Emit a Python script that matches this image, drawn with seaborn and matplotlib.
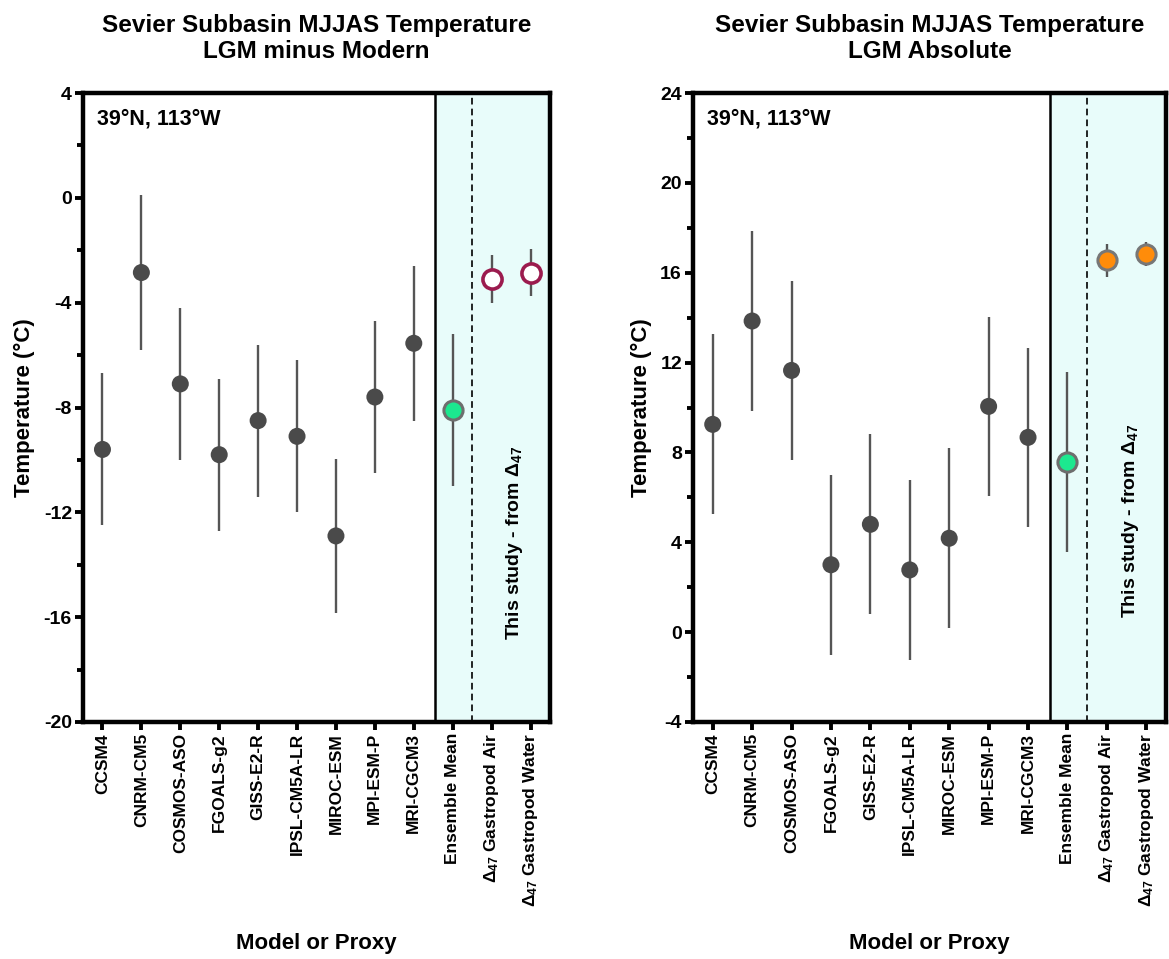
import numpy as np
import pandas as pd
import matplotlib
matplotlib.use("Agg")
import matplotlib.pyplot as plt
import seaborn as sns

categories = ["CCSM4", "CNRM-CM5", "COSMOS-ASO", "FGOALS-g2", "GISS-E2-R",
              "IPSL-CM5A-LR", "MIROC-ESM", "MPI-ESM-P", "MRI-CGCM3",
              "Ensemble Mean", "Gastropod Air", "Gastropod Water"]
tick_labels = ["CCSM4", "CNRM-CM5", "COSMOS-ASO", "FGOALS-g2", "GISS-E2-R",
               "IPSL-CM5A-LR", "MIROC-ESM", "MPI-ESM-P", "MRI-CGCM3",
               "Ensemble Mean",
               r"$\mathbf{\Delta_{47}}$ Gastropod Air",
               r"$\mathbf{\Delta_{47}}$ Gastropod Water"]
groups = ["model"] * 9 + ["ensemble", "proxy", "proxy"]

diff_values = [-9.6, -2.85, -7.1, -9.8, -8.5, -9.1, -12.9, -7.6, -5.55, -8.1, -3.1, -2.85]
diff_errors = [2.9, 2.95, 2.9, 2.9, 2.9, 2.9, 2.95, 2.9, 2.95, 2.9, 0.9, 0.9]
abs_values = [9.25, 13.85, 11.65, 3.0, 4.8, 2.77, 4.18, 10.05, 8.67, 7.57, 16.55, 16.83]
abs_errors = [4.0, 4.0, 4.0, 4.0, 4.0, 4.0, 4.0, 4.0, 4.0, 4.0, 0.72, 0.53]

sns.set_theme(style="ticks")
plt.rcParams["font.family"] = ["Liberation Sans", "DejaVu Sans"]
plt.rcParams["font.weight"] = "bold"
plt.rcParams["text.color"] = "black"
plt.rcParams["axes.labelcolor"] = "black"
plt.rcParams["xtick.color"] = "black"
plt.rcParams["ytick.color"] = "black"
plt.rcParams["mathtext.fontset"] = "custom"
plt.rcParams["mathtext.rm"] = "Liberation Sans:bold"
plt.rcParams["mathtext.bf"] = "Liberation Sans:bold"
plt.rcParams["mathtext.it"] = "Liberation Sans:italic"

fig = plt.figure(figsize=(11.69, 9.59), dpi=100)
ax1 = fig.add_axes([83 / 1169, 1 - 722 / 959, (550 - 83) / 1169, (722 - 93) / 959])
ax2 = fig.add_axes([693 / 1169, 1 - 722 / 959, (1166 - 693) / 1169, (722 - 93) / 959])

panels = [
    (ax1, diff_values, diff_errors, "Sevier Subbasin MJJAS Temperature\nLGM minus Modern",
     (-20, 4), "proxy_open", 0.285),
    (ax2, abs_values, abs_errors, "Sevier Subbasin MJJAS Temperature\nLGM Absolute",
     (-4, 24), "proxy_orange", 0.32),
]

x = np.arange(len(categories))
for ax, vals, errs, title, ylim, pstyle, ty in panels:
    df = pd.DataFrame({"x": x, "y": vals, "err": errs, "group": groups})
    ax.axvspan(8.55, 11.5, color="#E8FCFA", zorder=0, lw=0)
    ax.axvline(8.55, color="black", lw=1.8, zorder=1)
    ax.axvline(9.5, color="black", lw=1.2, ls=(0, (4, 2.5)), zorder=1)
    ax.errorbar(df["x"], df["y"], yerr=df["err"], fmt="none", ecolor="#555555",
                elinewidth=1.7, capsize=0, zorder=2)
    m = df[df.group == "model"]
    sns.scatterplot(data=m, x="x", y="y", ax=ax, color="#4A4A4A", s=150,
                    edgecolor="none", zorder=3, legend=False)
    e = df[df.group == "ensemble"]
    sns.scatterplot(data=e, x="x", y="y", ax=ax, color="#1CE88F", s=190,
                    edgecolor="#6E6E6E", linewidth=2.2, zorder=3, legend=False)
    p = df[df.group == "proxy"]
    if pstyle == "proxy_open":
        sns.scatterplot(data=p, x="x", y="y", ax=ax, color="white", s=190,
                        edgecolor="#9B1B4E", linewidth=2.6, zorder=3, legend=False)
    else:
        sns.scatterplot(data=p, x="x", y="y", ax=ax, color="#FF8C0A", s=190,
                        edgecolor="#777777", linewidth=2.2, zorder=3, legend=False)

    ax.set_xlim(-0.5, 11.5)
    ax.set_ylim(*ylim)
    ax.set_yticks(np.arange(ylim[0], ylim[1] + 1, 4))
    ax.set_yticks(np.arange(ylim[0], ylim[1] + 1, 2), minor=True)
    ax.set_yticklabels([f"{v:d}" for v in np.arange(ylim[0], ylim[1] + 1, 4)])
    ax.set_xticks(x)
    ax.set_xticklabels(tick_labels, rotation=90, fontsize=12.5, fontweight="bold")
    for lab in ax.get_yticklabels():
        lab.set_fontsize(14)
        lab.set_fontweight("bold")
    ax.tick_params(axis="both", which="major", length=6, width=2.8, direction="out",
                   color="black", pad=2)
    ax.tick_params(axis="y", which="minor", length=4, width=2.8, direction="out",
                   color="black")
    for s in ax.spines.values():
        s.set_linewidth(3.2)
        s.set_color("black")
    ax.set_xlabel("Model or Proxy", fontsize=16, fontweight="bold")
    ax.xaxis.set_label_coords(0.5, -0.335)
    ax.set_ylabel("Temperature (°C)", fontsize=16, fontweight="bold", labelpad=6)
    ax.set_title(title, fontsize=17.5, fontweight="bold", pad=25, linespacing=1.2)
    ax.text(0.03, 0.975, "39°N, 113°W", transform=ax.transAxes, ha="left", va="top",
            fontsize=15.5, fontweight="bold")
    ax.text(10.6, ty, r"This study - from $\mathit{\Delta_{47}}$", rotation=90,
            transform=ax.get_xaxis_transform(), ha="center", va="center",
            fontsize=14, fontweight="bold")

fig.savefig("out.png", dpi=100)
